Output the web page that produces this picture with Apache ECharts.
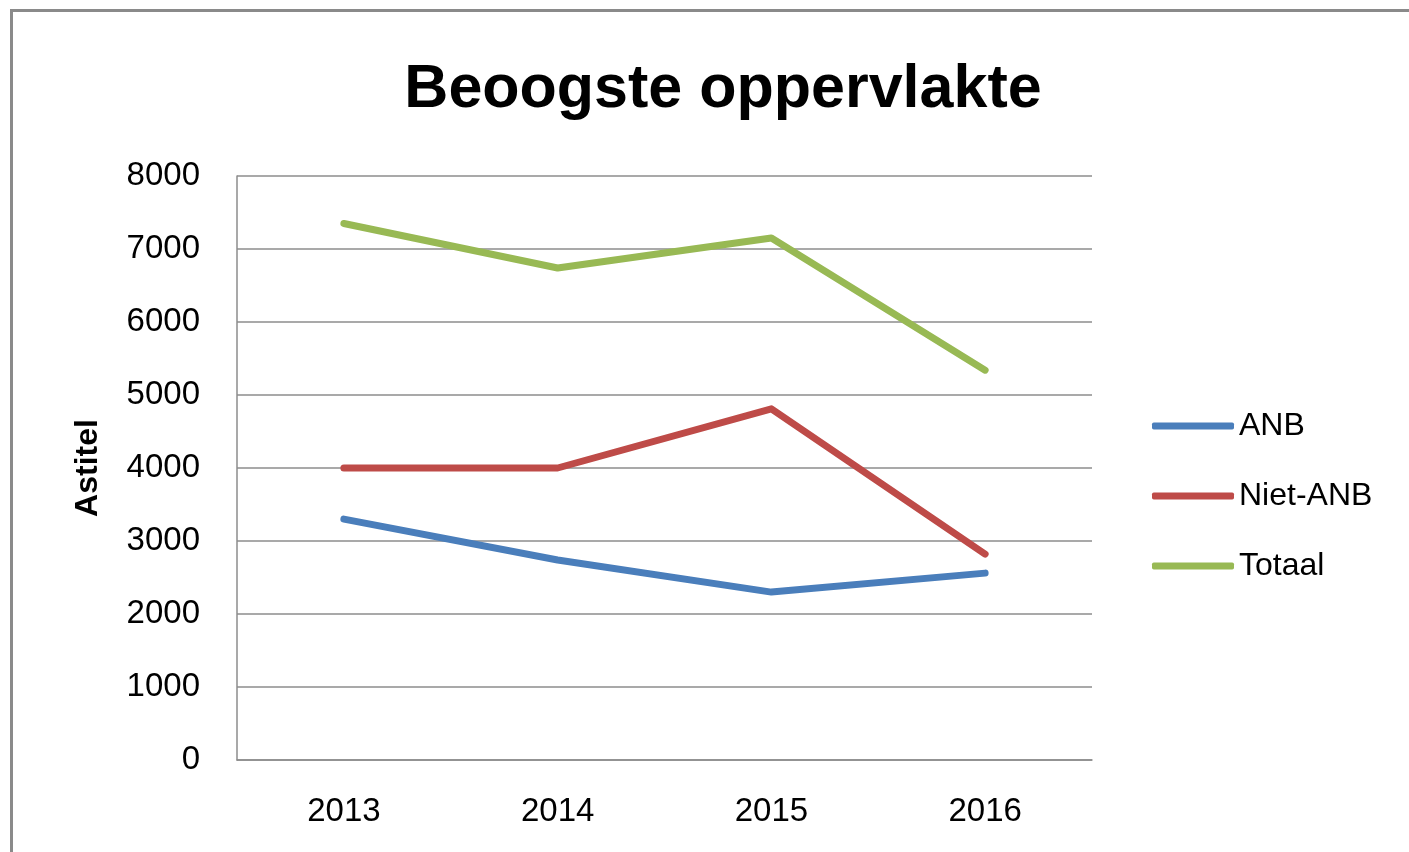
<!DOCTYPE html>
<html>
<head>
<meta charset="utf-8">
<script src="https://cdn.jsdelivr.net/npm/echarts@6/dist/echarts.min.js"></script>
<style>
  html, body { margin: 0; padding: 0; background: #fff; overflow: hidden; }
  #frame {
    position: absolute; left: 10px; top: 9px; width: 1600px; height: 1000px;
    border-top: 3px solid #8a8a8a; border-left: 3px solid #8a8a8a;
  }
  #chart { position: absolute; left: 0; top: 0; width: 1409px; height: 852px; }
</style>
</head>
<body>
<div id="frame"></div>
<div id="chart"></div>
<script>
// categories and values
const years = ['2013', '2014', '2015', '2016'];
const anb = [3300, 2740, 2300, 2560];
const nietAnb = [4000, 4000, 4810, 2820];
const totaal = [7350, 6740, 7150, 5340];

const colors = ['#4a7ebb', '#be4b48', '#98b954'];
const gridColor = '#8c8c8c';
const font = '"Liberation Sans", Arial, sans-serif';

function lineSeries(name, data, color) {
  return {
    name: name,
    type: 'line',
    data: data,
    symbol: 'none',
    color: color,
    lineStyle: { color: color, width: 7, cap: 'round', join: 'round' },
    animation: false
  };
}

const chart = echarts.init(document.getElementById('chart'));
chart.setOption({
  textStyle: { fontFamily: font },
  title: {
    text: 'Beoogste oppervlakte',
    left: 718,
    textAlign: 'center',
    top: 55,
    textStyle: { fontSize: 61, fontWeight: 'bold', color: '#000', fontFamily: font }
  },
  legend: {
    orient: 'vertical',
    left: 1147,
    top: 401,
    icon: 'roundRect',
    itemWidth: 82,
    itemHeight: 7,
    itemGap: 30,
    textStyle: { fontSize: 32, color: '#000', lineHeight: 40, fontFamily: font },
    data: ['ANB', 'Niet-ANB', 'Totaal']
  },
  grid: {
    left: 237,
    right: 317,
    top: 176,
    bottom: 92,
    containLabel: false,
    outerBoundsMode: 'none'
  },
  xAxis: {
    type: 'category',
    data: years,
    boundaryGap: true,
    axisLine: { show: true, lineStyle: { color: gridColor, width: 1.5 } },
    axisTick: { show: false },
    axisLabel: { fontSize: 33, color: '#000', margin: 35, fontFamily: font }
  },
  yAxis: {
    type: 'value',
    min: 0,
    max: 8000,
    interval: 1000,
    name: 'Astitel',
    nameLocation: 'middle',
    nameGap: 133,
    nameTextStyle: { fontSize: 32, fontWeight: 'bold', color: '#000', fontFamily: font },
    axisLine: { show: true, lineStyle: { color: gridColor, width: 1.5 } },
    axisTick: { show: false },
    axisLabel: {
      fontSize: 33, color: '#000', margin: 37, fontFamily: font,
      formatter: function (v) { return String(v); }
    },
    splitLine: { show: true, lineStyle: { color: gridColor, width: 1.5 } }
  },
  series: [
    lineSeries('ANB', anb, colors[0]),
    lineSeries('Niet-ANB', nietAnb, colors[1]),
    lineSeries('Totaal', totaal, colors[2])
  ]
});
</script>
</body>
</html>
